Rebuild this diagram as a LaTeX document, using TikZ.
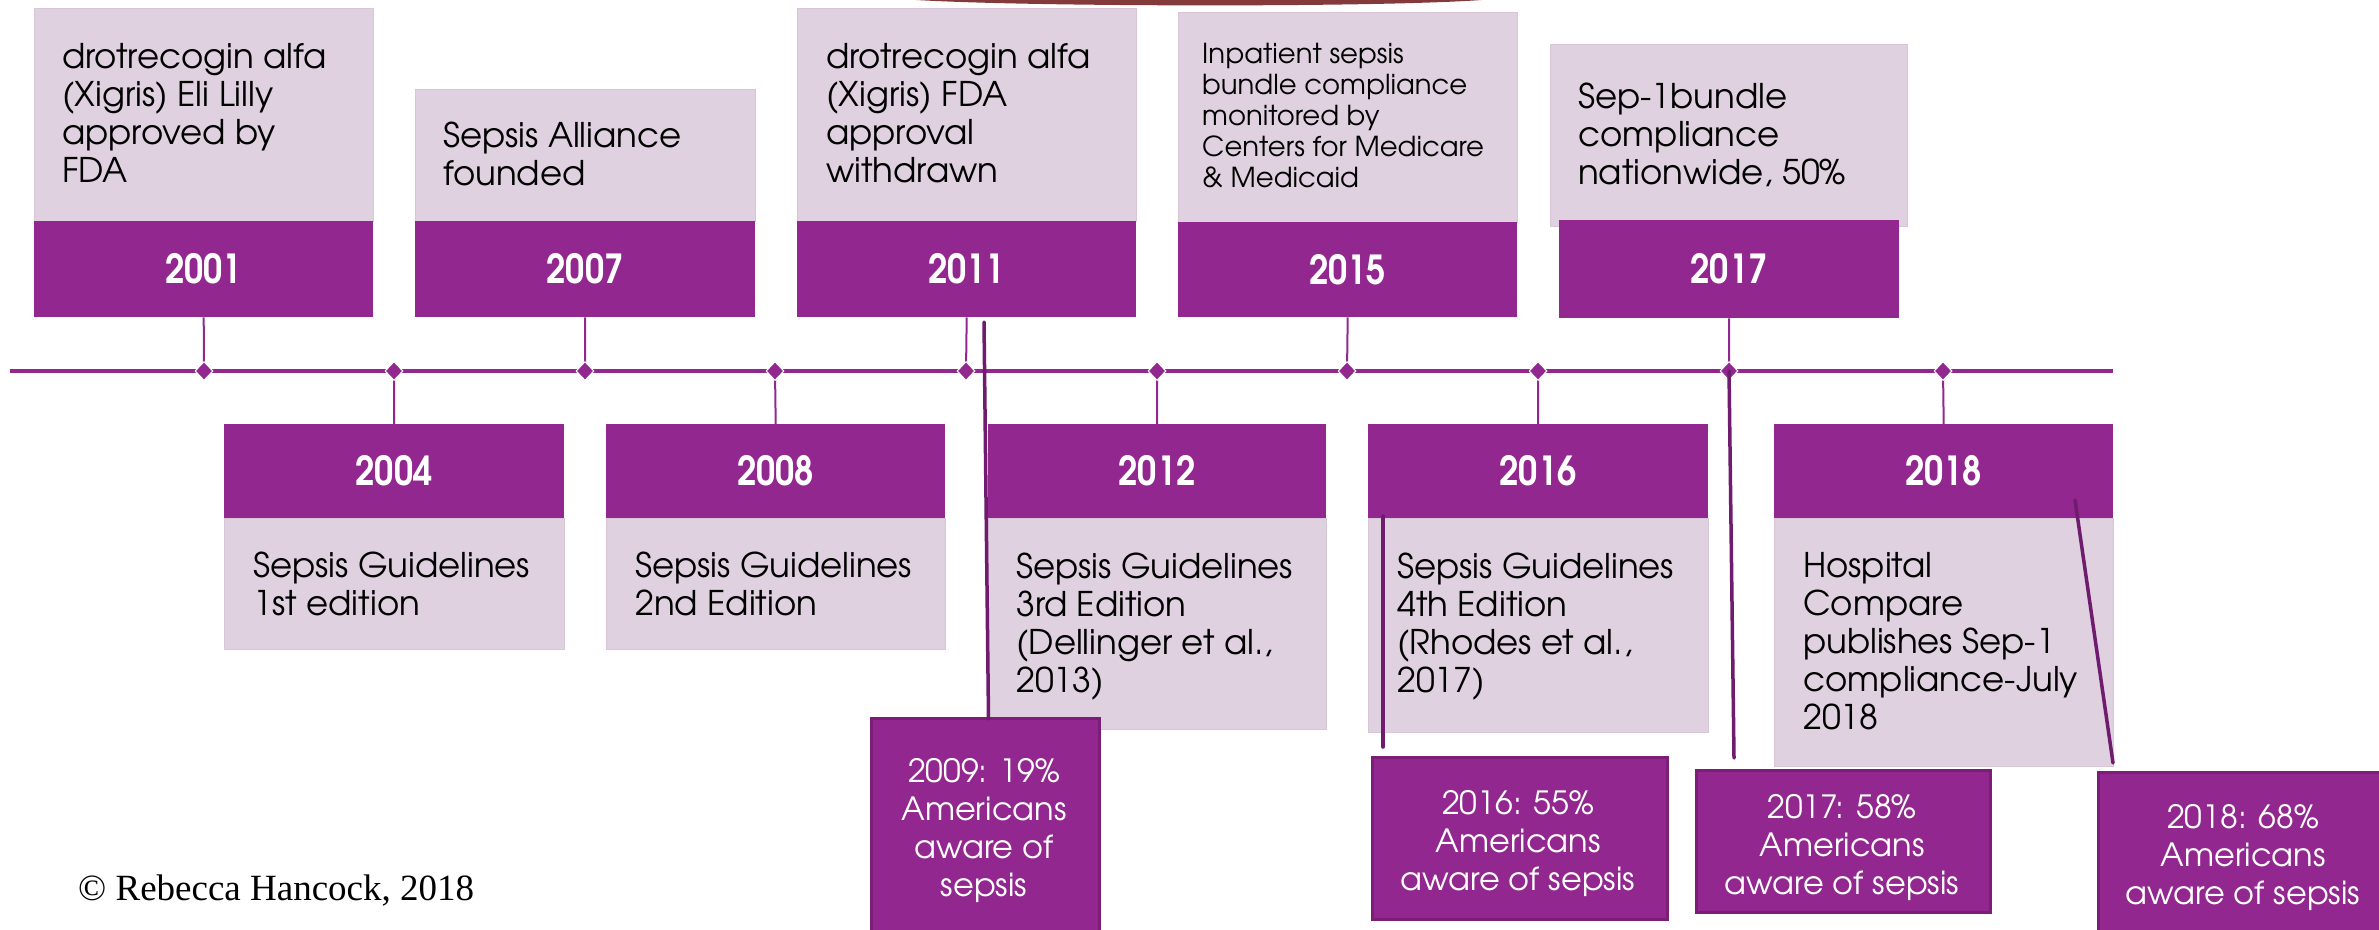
\documentclass[tikz,border=0pt]{standalone}
\usepackage{fontspec}
\setmainfont{TeX Gyre Adventor}
\newfontfamily\yearfont{TeX Gyre Adventor}[FakeStretch=0.86]
\newfontfamily\copyfont{Liberation Serif}
\usetikzlibrary{shapes.geometric,calc}

\definecolor{purp}{HTML}{92278F}
\definecolor{lilac}{HTML}{DFD1DF}
\definecolor{lilacedge}{HTML}{D8C5D8}
\definecolor{pointer}{HTML}{6F1B6E}
\definecolor{awareedge}{HTML}{7A1E78}
\definecolor{arcred}{HTML}{843A3A}

\newcommand{\lead}{\rule{0pt}{28pt}}

\tikzset{
  card/.style={draw=lilacedge, fill=lilac, line width=1pt, inner sep=0pt, anchor=north west},
  band/.style={fill=purp, inner sep=0pt, anchor=north west, text=white,
    font=\yearfont\fontsize{40}{42}\selectfont\bfseries},
  aware/.style={draw=awareedge, fill=purp, line width=3pt, inner sep=0pt, anchor=north west},
  desc/.style={inner sep=0pt, anchor=north west, align=left, text=black,
    font=\fontsize{34}{38}\selectfont},
  small desc/.style={desc, font=\fontsize{27.5}{31}\selectfont},
  awaretext/.style={inner sep=0pt, anchor=north, align=center, text=white,
    font=\fontsize{32}{38}\selectfont},
  tl/.style={draw=purp, line width=4.5pt},
  stem/.style={draw=purp, line width=2pt},
  mark node/.style={diamond, fill=purp, draw=white, line width=1pt, inner sep=0pt,
    minimum width=18pt, minimum height=19pt},
  pointerline/.style={draw=pointer, line width=3.5pt, line cap=round},
}

\begin{document}
\begin{tikzpicture}[x=1pt,y=-1pt]
\useasboundingbox (0,0) rectangle (2379,929);
\clip (0,0) rectangle (2379,929);

% dark red arc peeking in at the top edge
\fill[arcred] (902,-1) .. controls (1000,7) and (1400,8) .. (1494,-1) -- cycle;

% upper event cards
\node[card, minimum width=339pt, minimum height=213pt] (t2001) at (34,8) {};
\node[band, minimum width=339pt, minimum height=96pt] (y2001) at (34,221) {2001};
\node[card, minimum width=340pt, minimum height=132pt] (t2007) at (415,89) {};
\node[band, minimum width=340pt, minimum height=96pt] (y2007) at (415,221) {2007};
\node[card, minimum width=339pt, minimum height=213pt] (t2011) at (797,8) {};
\node[band, minimum width=339pt, minimum height=96pt] (y2011) at (797,221) {2011};
\node[card, minimum width=339pt, minimum height=210pt] (t2015) at (1178,12) {};
\node[band, minimum width=339pt, minimum height=95pt] (y2015) at (1178,222) {2015};
\node[card, minimum width=357pt, minimum height=182pt] (t2017) at (1550,44) {};
\node[band, minimum width=340pt, minimum height=98pt] (y2017) at (1559,220) {2017};

% lower event cards
\node[card, minimum width=340pt, minimum height=131pt] (t2004) at (224,518) {};
\node[band, minimum width=340pt, minimum height=94pt] (y2004) at (224,424) {2004};
\node[card, minimum width=339pt, minimum height=131pt] (t2008) at (606,518) {};
\node[band, minimum width=339pt, minimum height=94pt] (y2008) at (606,424) {2008};
\node[card, minimum width=338pt, minimum height=211pt] (t2012) at (988,518) {};
\node[band, minimum width=338pt, minimum height=94pt] (y2012) at (988,424) {2012};
\node[card, minimum width=340pt, minimum height=214pt] (t2016) at (1368,518) {};
\node[band, minimum width=340pt, minimum height=94pt] (y2016) at (1368,424) {2016};
\node[card, minimum width=339pt, minimum height=248pt] (t2018) at (1774,518) {};
\node[band, minimum width=339pt, minimum height=94pt] (y2018) at (1774,424) {2018};

% card texts
\node[desc] (x2001) at (62,40) {\lead drotrecogin alfa\\(Xigris) Eli Lilly\\approved by\\FDA};
\node[desc] (x2007) at (443,119) {\lead Sepsis Alliance\\founded};
\node[desc] (x2011) at (826,40) {\lead drotrecogin alfa\\(Xigris) FDA\\approval\\withdrawn};
\node[small desc] (x2015) at (1202,35) {\lead Inpatient sepsis\\bundle compliance\\monitored by\\Centers for Medicare\\\& Medicaid};
\node[desc] (x2017) at (1578,80) {\lead Sep-1bundle\\compliance\\nationwide, 50\%};
\node[desc] (x2004) at (253,549) {\lead Sepsis Guidelines\\1st edition};
\node[desc] (x2008) at (635,549) {\lead Sepsis Guidelines\\2nd Edition};
\node[desc] (x2012) at (1016,550) {\lead Sepsis Guidelines\\3rd Edition\\(Dellinger et al.,\\2013)};
\node[desc] (x2016) at (1397,550) {\lead Sepsis Guidelines\\4th Edition\\(Rhodes et al.,\\2017)};
\node[desc] (x2018) at (1803,549) {\lead Hospital\\Compare\\publishes Sep-1\\compliance-July\\2018};

% timeline and its marks
\coordinate (tlstart) at (10,371);
\coordinate (tlend) at (2113,371);
\coordinate (p1) at (204,371);
\coordinate (p2) at (394,371);
\coordinate (p3) at (585,371);
\coordinate (p4) at (775,371);
\coordinate (p5) at (966,371);
\coordinate (p6) at (1157,371);
\coordinate (p7) at (1347,371);
\coordinate (p8) at (1538,371);
\coordinate (p9) at (1729,371);
\coordinate (p10) at (1943,371);
\draw[tl] (tlstart) -- (tlend);

\draw[stem] (y2001.south) -- (p1);
\draw[stem] (y2004.north) -- (p2);
\draw[stem] (y2007.south) -- (p3);
\draw[stem] (y2008.north) -- (p4);
\draw[stem] (y2011.south) -- (p5);
\draw[stem] (y2012.north) -- (p6);
\draw[stem] (y2015.south) -- (p7);
\draw[stem] (y2016.north) -- (p8);
\draw[stem] (y2017.south) -- (p9);
\draw[stem] (y2018.north) -- (p10);

\foreach \i in {1,...,10} \node[mark node] (m\i) at (p\i) {};

% awareness boxes
\node[aware, minimum width=228pt, minimum height=228pt] (a2009) at (870,717) {};
\node[aware, minimum width=295pt, minimum height=162pt] (a2016) at (1371,756) {};
\node[aware, minimum width=294pt, minimum height=142pt] (a2017) at (1695,769) {};
\node[aware, minimum width=292pt, minimum height=169pt] (a2018) at (2097,771) {};

\node[awaretext] (w2009) at (984,754) {\lead 2009: 19\%\\Americans\\aware of\\sepsis};
\node[awaretext] (w2016) at (1518,786) {\lead 2016: 55\%\\Americans\\aware of sepsis};
\node[awaretext] (w2017) at (1842,790) {\lead 2017: 58\%\\Americans\\aware of sepsis};
\node[awaretext] (w2018) at (2243,800) {\lead 2018: 68\%\\Americans\\aware of sepsis};

% pointer lines towards the awareness boxes
\coordinate (q2009) at (984,322);
\coordinate (q2016a) at (1383,516);
\coordinate (q2016b) at (1383,747);
\coordinate (q2017) at (1734,758);
\coordinate (q2018a) at (2075,500);
\coordinate (q2018b) at (2113,763);
\draw[pointerline] (q2009) -- ($(a2009.north)+(3,2)$);
\draw[pointerline] (q2016a) -- (q2016b);
\draw[pointerline] (m9.center) -- (q2017);
\draw[pointerline] (q2018a) -- (q2018b);

% credit line
\node[inner sep=0pt, anchor=base west, font=\copyfont\fontsize{37}{40}\selectfont] (credit) at (78,900) {© Rebecca Hancock, 2018};
\end{tikzpicture}
\end{document}
